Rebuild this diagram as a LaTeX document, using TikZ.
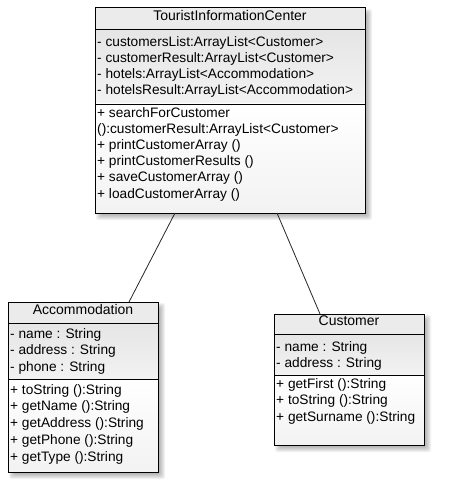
\documentclass[tikz,border=0pt]{standalone}
\usepackage{fontspec}
\setmainfont{Liberation Sans}
\tikzset{
  txt/.style={anchor=base west, inner sep=0pt, font=\fontsize{13.7}{16}\selectfont},
  ttl/.style={anchor=base, inner sep=0pt, font=\fontsize{14}{16}\selectfont},
  conn/.style={draw=black!85, line width=0.8pt},
  frame/.style={draw=black, line width=1pt, inner sep=0pt, outer sep=0pt, anchor=north west},
  sepline/.style={draw=black, line width=0.8pt},
}
\newcommand\ClassBox[7]{%
  \foreach \k in {0,...,5}{\fill[black,opacity=0.05,rounded corners=2pt] ({#2+6-\k},{#3+6-\k}) rectangle ({#4+2+\k},{#5+2+\k});}
  \fill[black!8] (#2,#3) rectangle (#4,#6);
  \shade[top color=black!10,bottom color=black!5] (#2,#6) rectangle (#4,#7);
  \shade[top color=white,bottom color=black!5] (#2,#7) rectangle (#4,#5);
  \draw[sepline] (#2,#6) -- (#4,#6);
  \draw[sepline] (#2,#7) -- (#4,#7);
  \node[frame, minimum width={1pt*(#4-#2)}, minimum height={1pt*(#5-#3)}] (#1) at (#2,#3) {};
}
\begin{document}
\begin{tikzpicture}[x=1pt,y=-1pt]
\useasboundingbox[fill=white] (0,0) rectangle (450,497);
% boxes
\ClassBox{tic}{95}{8}{365}{213}{29.5}{104}
\ClassBox{acc}{8}{302}{158}{472}{323}{379}
\ClassBox{cus}{274}{314}{424}{445}{334}{375}
% connectors
\draw[conn] ([xshift=80pt]tic.south west) -- ([xshift=121pt]acc.north west);
\draw[conn] ([xshift=182pt]tic.south west) -- ([xshift=46pt]cus.north west);
% TouristInformationCenter
\node[ttl] (tic-t) at (230,20.5) {TouristInformationCenter};
\foreach \t [count=\i] in {{- customersList:ArrayList<Customer>},{- customerResult:ArrayList<Customer>},{- hotels:ArrayList<Accommodation>},{- hotelsResult:ArrayList<Accommodation>}}
  \node[txt] (tic-a\i) at (97,{46.5+16.1*(\i-1)}) {\t};
\foreach \t [count=\i] in {{+ searchForCustomer},{():customerResult:ArrayList<Customer>},{+ printCustomerArray ()},{+ printCustomerResults ()},{+ saveCustomerArray ()},{+ loadCustomerArray ()}}
  \node[txt] (tic-m\i) at (97,{117.5+16.1*(\i-1)}) {\t};
% Accommodation
\node[ttl] (acc-t) at (83,314) {Accommodation};
\foreach \t [count=\i] in {{- name : String},{- address : String},{- phone : String}}
  \node[txt] (acc-a\i) at (10,{338+16.9*(\i-1)}) {\t};
\foreach \t [count=\i] in {{+ toString ():String},{+ getName ():String},{+ getAddress ():String},{+ getPhone ():String},{+ getType ():String}}
  \node[txt] (acc-m\i) at (10,{394+16.8*(\i-1)}) {\t};
% Customer
\node[ttl] (cus-t) at (349,325.5) {Customer};
\foreach \t [count=\i] in {{- name : String},{- address : String}}
  \node[txt] (cus-a\i) at (276,{351+16.9*(\i-1)}) {\t};
\foreach \t [count=\i] in {{+ getFirst ():String},{+ toString ():String},{+ getSurname ():String}}
  \node[txt] (cus-m\i) at (276,{388+16.9*(\i-1)}) {\t};
\end{tikzpicture}
\end{document}
